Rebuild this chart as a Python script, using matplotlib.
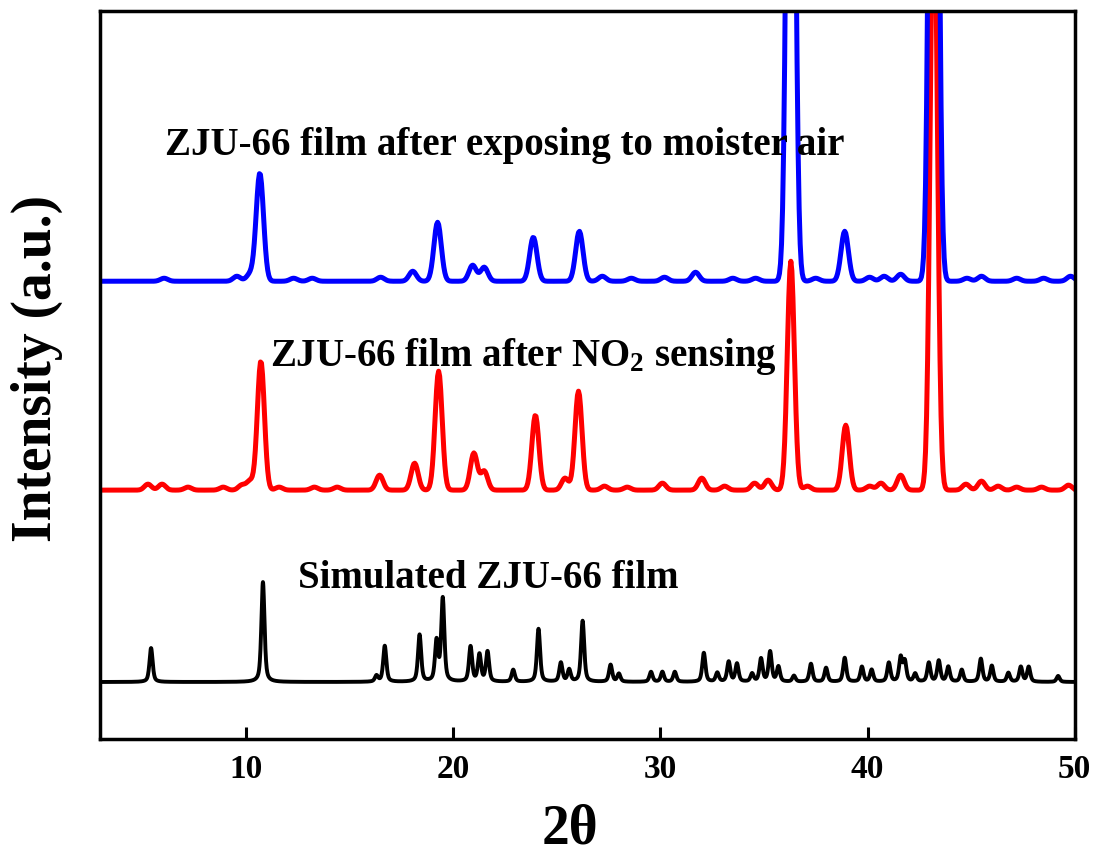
import numpy as np
import matplotlib
matplotlib.use("Agg")
import matplotlib.pyplot as plt

plt.rcParams['font.family'] = 'Liberation Serif'
plt.rcParams['font.weight'] = 'bold'
plt.rcParams['mathtext.fontset'] = 'custom'
plt.rcParams['mathtext.rm'] = 'Liberation Serif:bold'
plt.rcParams['mathtext.it'] = 'Liberation Serif:bold'
plt.rcParams['mathtext.bf'] = 'Liberation Serif:bold'

# peak tables (2theta, height in a.u.)
sim_pos = [5.42, 10.82, 16.3, 16.7, 18.38, 19.2, 19.5, 20.84, 21.27, 21.66, 22.9, 24.12,
           25.2, 25.6, 26.25, 27.6, 28.0, 29.55, 30.1, 30.7, 32.1, 32.75, 33.3, 33.7,
           34.43, 34.86, 35.3, 35.7, 36.45, 37.27, 38.0, 38.9, 39.73, 40.2, 41.03,
           41.6, 41.8, 42.3, 42.96, 43.44, 43.9, 44.55, 45.47, 46.0, 46.8, 47.4,
           47.78, 49.2]
sim_hgt = [34, 100, 6, 36, 47, 40, 83, 35, 27, 30, 12, 53,
           19, 12, 61, 17, 8, 10, 10, 10, 29, 9, 20, 18,
           8, 23, 30, 15, 6, 18, 14, 24, 15, 12, 19,
           24, 20, 8, 19, 21, 15, 12, 23, 16, 9, 15,
           15, 6]

no2_pos = [5.27, 5.95, 7.2, 8.9, 9.8, 10.2, 10.72, 11.6, 13.3, 14.4, 16.45, 18.14,
           19.3, 21.0, 21.5, 23.97, 25.4, 26.05, 27.3, 28.4, 30.1, 32.0, 33.1,
           34.55, 35.2, 36.3, 37.1, 38.95, 40.1, 40.65, 41.6, 43.2, 44.75, 45.5,
           46.3, 47.2, 48.4, 49.7]
no2_hgt = [6, 6, 3, 3, 5, 9, 129, 3, 3, 3, 15, 27,
           119, 37, 19, 75, 12, 99, 4, 3, 7, 12, 4,
           7, 10, 229, 4, 65, 4, 7, 15, 620, 6, 9,
           4, 3, 3, 5]

air_pos = [6.05, 9.56, 10.2, 10.67, 12.3, 13.2, 16.5, 18.05, 19.25, 20.94, 21.5,
           23.87, 26.09, 27.2, 28.6, 30.2, 31.7, 33.5, 34.6, 36.3, 37.5, 38.9,
           40.1, 40.8, 41.6, 43.2, 44.8, 45.5, 47.2, 48.5, 49.8]
air_hgt = [3, 5, 7, 108, 3, 3, 4, 10, 59, 16, 14,
           44, 50, 5, 3, 4, 9, 3, 3, 900, 3, 50,
           4, 5, 7, 1200, 3, 5, 3, 3, 5]

# vertical offsets of the stacked patterns
sim_base = 57
no2_base = 249
air_base = 458

labels = ['ZJU-66 film after exposing to moister air',
          'ZJU-66 film after NO$_2$ sensing',
          'Simulated ZJU-66 film']


def pattern(x, pos, hgt, fwhm, eta):
    y = np.zeros_like(x)
    for p, h in zip(pos, hgt):
        d = (x - p) / fwhm
        g = np.exp(-4 * np.log(2) * d ** 2)
        lor = 1.0 / (1.0 + 4 * d ** 2)
        y += h * (eta * lor + (1 - eta) * g)
    return y


x_sim = np.arange(3.0, 50.0, 0.01)
x_exp = np.arange(3.0, 50.0, 0.05)

y_sim = pattern(x_sim, sim_pos, sim_hgt, 0.18, 0.55) + sim_base
y_no2 = pattern(x_exp, no2_pos, no2_hgt, 0.40, 0.0) + no2_base
y_air = pattern(x_exp, air_pos, air_hgt, 0.42, 0.0) + air_base

fig = plt.figure(figsize=(11, 8.54), dpi=100)
ax = fig.add_axes([0.091, 0.1335, 0.886, 0.852])

ax.plot(x_sim, y_sim, color='black', lw=2.8)
ax.plot(x_exp, y_no2, color='#ff0000', lw=3.6)
ax.plot(x_exp, y_air, color='#0000ff', lw=3.6)

ax.text(6.1, 585, labels[0], fontsize=28, fontweight='bold')
ax.text(11.15, 374, labels[1], fontsize=28, fontweight='bold')
ax.text(12.5, 152, labels[2], fontsize=28, fontweight='bold')

ax.set_xlim(2.96, 50)
ax.set_ylim(0, 728)
ax.set_xticks([10, 20, 30, 40, 50])
ax.set_yticks([])
ax.tick_params(axis='x', direction='in', length=9, width=2.2, labelsize=24, pad=10)
for sp in ax.spines.values():
    sp.set_linewidth(2.5)

fig.text(570 / 1100, 1 - 830 / 854, '2θ', fontsize=40, fontweight='bold', ha='center', va='center')
fig.text(37 / 1100, 1 - 368 / 854, 'Intensity (a.u.)', fontsize=40, fontweight='bold',
         rotation=90, ha='center', va='center')

fig.savefig('out.png', dpi=100)
